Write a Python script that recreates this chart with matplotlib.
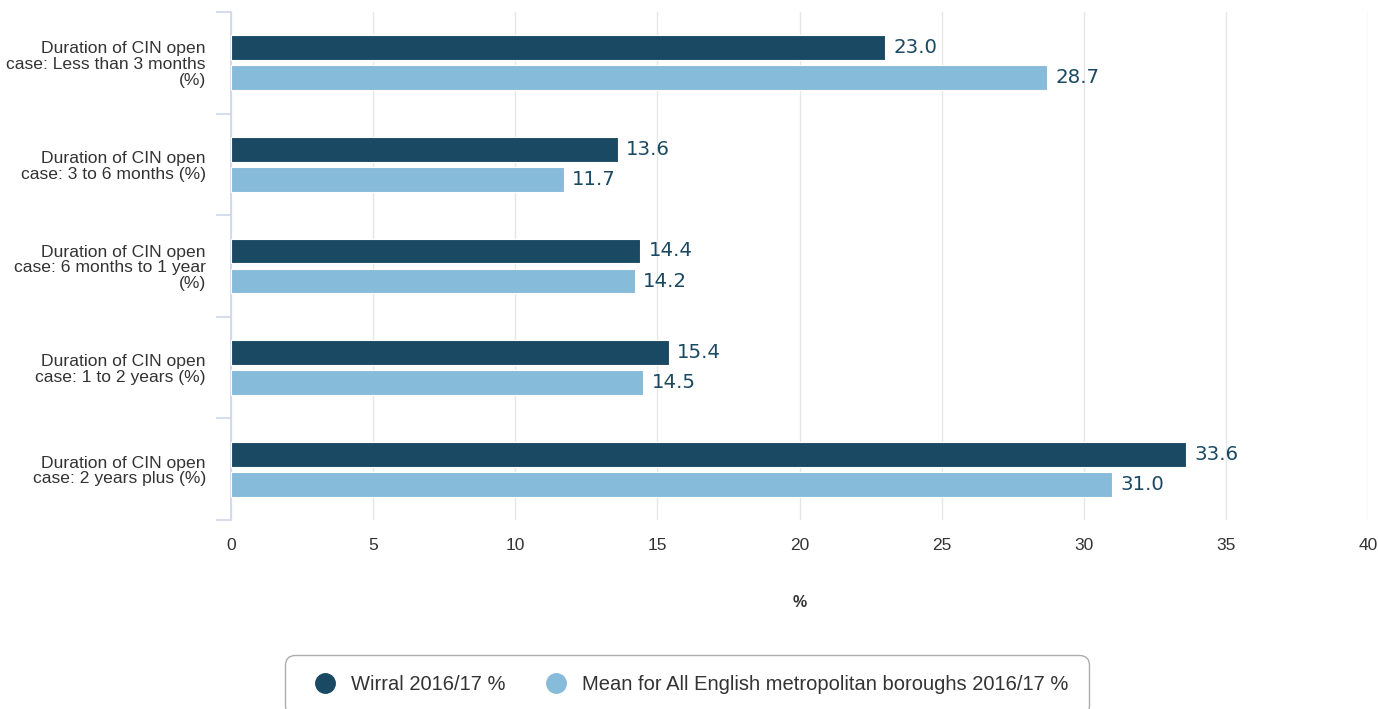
import numpy as np
import matplotlib
matplotlib.use('Agg')
from matplotlib import pyplot as plt
from matplotlib.lines import Line2D

categories = ['Duration of CIN open\ncase: Less than 3 months\n(%)',
              'Duration of CIN open\ncase: 3 to 6 months (%)',
              'Duration of CIN open\ncase: 6 months to 1 year\n(%)',
              'Duration of CIN open\ncase: 1 to 2 years (%)',
              'Duration of CIN open\ncase: 2 years plus (%)']
wirral = [23.0, 13.6, 14.4, 15.4, 33.6]
mean_met = [28.7, 11.7, 14.2, 14.5, 31.0]
series_names = ['Wirral 2016/17 %', 'Mean for All English metropolitan boroughs 2016/17 %']
xticks = [0, 5, 10, 15, 20, 25, 30, 35, 40]

dark = '#1a4a63'
light = '#86bbd9'

fig = plt.figure(figsize=(13.78, 7.09), dpi=100)
ax = fig.add_axes([231/1378, 1-520/709, 1137/1378, 508/709])

y = np.arange(len(categories))
off = 0.148
h = 0.245
ax.barh(y - off, wirral, height=h, color=dark, edgecolor='white', linewidth=0.8, zorder=3)
ax.barh(y + off, mean_met, height=h, color=light, edgecolor='white', linewidth=0.8, zorder=3)

for i in range(len(categories)):
    ax.text(wirral[i] + 0.3, y[i] - off, '%.1f' % wirral[i], va='center', ha='left',
            fontsize=14.2, color=dark, family='DejaVu Sans')
    ax.text(mean_met[i] + 0.3, y[i] + off, '%.1f' % mean_met[i], va='center', ha='left',
            fontsize=14.2, color=dark, family='DejaVu Sans')

ax.set_xlim(0, 40)
ax.set_ylim(len(categories) - 0.5, -0.5)
ax.set_xticks(xticks)
ax.set_xticklabels([str(t) for t in xticks], fontsize=12.5, color='#333333', family='Liberation Sans')
ax.tick_params(axis='x', length=0, pad=13)
ax.grid(axis='x', color='#e6e6e6', linewidth=1, zorder=0)

ax.set_yticks(y)
ax.set_yticklabels(categories, fontsize=12.6, color='#333333', family='Liberation Sans',
                   linespacing=1.06)
ax.tick_params(axis='y', which='major', length=0, pad=18)
ax.set_yticks(np.arange(-0.5, len(categories)), minor=True)
ax.tick_params(axis='y', which='minor', length=11, color='#ccd6eb', width=1.2)

for s in ['top', 'right', 'bottom']:
    ax.spines[s].set_visible(False)
ax.spines['left'].set_color('#ccd6eb')
ax.spines['left'].set_linewidth(1.2)

ax.set_xlabel('%', fontsize=11.5, fontweight='bold', color='#333333', family='Liberation Sans',
              labelpad=30)

handles = [Line2D([], [], marker='o', linestyle='', markersize=14, color=c) for c in (dark, light)]
leg = fig.legend(handles, series_names, loc='center', bbox_to_anchor=(687/1378, 1-685/709),
                 ncol=2, frameon=True, handletextpad=0.3, columnspacing=1.5,
                 borderpad=0.8, prop={'family': 'Liberation Sans', 'size': 14.5})
leg.get_frame().set_edgecolor('#999999')
leg.get_frame().set_linewidth(1)
leg.get_frame().set_boxstyle('round,pad=0.2,rounding_size=0.5')
for t in leg.get_texts():
    t.set_color('#333333')

fig.savefig('out.png', dpi=100)
